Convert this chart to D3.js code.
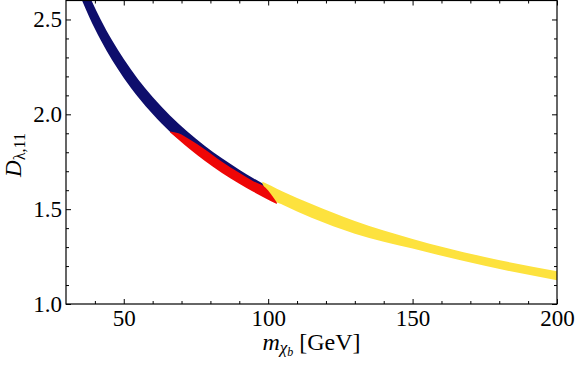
<!DOCTYPE html>
<html>
<head>
<meta charset="utf-8">
<script src="https://cdn.jsdelivr.net/npm/d3@7"></script>
<style>
  body { margin: 0; background: #fff; }
  svg { display: block; }
  text { font-family: "Liberation Serif", "Times New Roman", serif; fill: #000; }
</style>
</head>
<body>
<div id="chart"></div>
<script>
// Band edges (m in GeV, D upper / lower)
const blueM  = [35, 38, 42, 46, 50, 55, 60, 66, 72, 78, 84, 90, 95, 99];
const blueHi = [2.738, 2.628, 2.500, 2.389, 2.291, 2.184, 2.091, 1.994, 1.909, 1.834, 1.768, 1.708, 1.662, 1.628];
const blueLo = [2.620, 2.514, 2.392, 2.285, 2.192, 2.090, 2.001, 1.908, 1.835, 1.765, 1.701, 1.644, 1.600, 1.568];

const redM  = [66, 69, 73, 78, 84, 90, 95, 99, 103];
const redHi = [1.910, 1.900, 1.866, 1.816, 1.750, 1.692, 1.646, 1.614, 1.535];
const redLo = [1.905, 1.866, 1.814, 1.755, 1.691, 1.634, 1.590, 1.558, 1.527];

const yelM  = [98, 101, 105, 115, 130, 150, 175, 201];
const yelHi = [1.645, 1.624, 1.593, 1.527, 1.438, 1.343, 1.248, 1.170];
const yelLo = [1.635, 1.553, 1.523, 1.455, 1.371, 1.292, 1.201, 1.123];

const xTicks = [50, 100, 150, 200];
const xMinor = [40, 60, 70, 80, 90, 110, 120, 130, 140, 160, 170, 180, 190];
const yTicks = [1.0, 1.5, 2.0, 2.5];
const yMinor = [1.1, 1.2, 1.3, 1.4, 1.6, 1.7, 1.8, 1.9, 2.1, 2.2, 2.3, 2.4];

const W = 576, H = 365;
const plotL = 66, plotR = 557, plotT = 0.5, plotB = 304;

const x = d3.scaleLinear().domain([30, 200]).range([plotL, plotR]);
const y = d3.scaleLinear().domain([1.0, 2.6]).range([plotB, plotT]);

const svg = d3.select("#chart").append("svg")
    .attr("width", W)
    .attr("height", H);

svg.append("clipPath").attr("id", "clip")
  .append("rect")
    .attr("x", plotL).attr("y", plotT)
    .attr("width", plotR - plotL).attr("height", plotB - plotT);

const plot = svg.append("g").attr("clip-path", "url(#clip)");

function band(ms, hi, lo, color) {
    const rows = ms.map((m, i) => ({m: m, hi: hi[i], lo: lo[i]}));
    const area = d3.area()
        .x(d => x(d.m))
        .y0(d => y(d.lo))
        .y1(d => y(d.hi))
        .curve(d3.curveMonotoneX);
    plot.append("path")
        .datum(rows)
        .attr("d", area)
        .attr("fill", color);
}

band(blueM, blueHi, blueLo, "#0e0e6c");
band(yelM, yelHi, yelLo, "#fde23e");
band(redM, redHi, redLo, "#ee0606");

// axes: ticks point inward, labels only bottom / left
function styleAxis(g) {
    g.select(".domain").remove();
    g.selectAll("line").attr("stroke", "#000");
    g.selectAll("text").style("font-size", "23px").attr("fill", "#000");
}

svg.append("g")
    .attr("transform", `translate(0,${plotB})`)
    .call(d3.axisBottom(x).tickValues(xTicks).tickFormat(d3.format("d"))
        .tickSize(-5).tickSizeOuter(0).tickPadding(6))
    .call(styleAxis);
svg.append("g")
    .attr("transform", `translate(0,${plotB})`)
    .call(d3.axisBottom(x).tickValues(xMinor).tickFormat("").tickSize(-3).tickSizeOuter(0))
    .call(styleAxis);
svg.append("g")
    .attr("transform", `translate(0,${plotT})`)
    .call(d3.axisTop(x).tickValues(xTicks).tickFormat("").tickSize(-5).tickSizeOuter(0))
    .call(styleAxis);
svg.append("g")
    .attr("transform", `translate(0,${plotT})`)
    .call(d3.axisTop(x).tickValues(xMinor).tickFormat("").tickSize(-3).tickSizeOuter(0))
    .call(styleAxis);

svg.append("g")
    .attr("transform", `translate(${plotL},0)`)
    .call(d3.axisLeft(y).tickValues(yTicks).tickFormat(d3.format(".1f"))
        .tickSize(-5).tickSizeOuter(0).tickPadding(4))
    .call(styleAxis);
svg.append("g")
    .attr("transform", `translate(${plotL},0)`)
    .call(d3.axisLeft(y).tickValues(yMinor).tickFormat("").tickSize(-3).tickSizeOuter(0))
    .call(styleAxis);
svg.append("g")
    .attr("transform", `translate(${plotR},0)`)
    .call(d3.axisRight(y).tickValues(yTicks).tickFormat("").tickSize(-5).tickSizeOuter(0))
    .call(styleAxis);
svg.append("g")
    .attr("transform", `translate(${plotR},0)`)
    .call(d3.axisRight(y).tickValues(yMinor).tickFormat("").tickSize(-3).tickSizeOuter(0))
    .call(styleAxis);

// frame
svg.append("rect")
    .attr("x", plotL).attr("y", plotT)
    .attr("width", plotR - plotL).attr("height", plotB - plotT)
    .attr("fill", "none")
    .attr("stroke", "#000")
    .attr("stroke-width", 1.2);

// x title: m_{chi_b} [GeV]
const xt = svg.append("text")
    .attr("x", (plotL + plotR) / 2)
    .attr("y", 350)
    .attr("text-anchor", "middle")
    .style("font-size", "24px");
xt.append("tspan").style("font-style", "italic").text("m");
xt.append("tspan").attr("dy", 3).style("font-size", "17px").style("font-style", "italic").text("χ");
xt.append("tspan").attr("dy", 3).style("font-size", "12px").style("font-style", "italic").text("b");
xt.append("tspan").attr("dy", -6).text(" [GeV]");

// y title: D_{lambda,11}
const yt = svg.append("text")
    .attr("transform", "translate(21,155) rotate(-90)")
    .attr("text-anchor", "middle")
    .style("font-size", "23px");
yt.append("tspan").style("font-style", "italic").text("D");
yt.append("tspan").attr("dy", 4).style("font-size", "16px").text("λ,11");
</script>
</body>
</html>
